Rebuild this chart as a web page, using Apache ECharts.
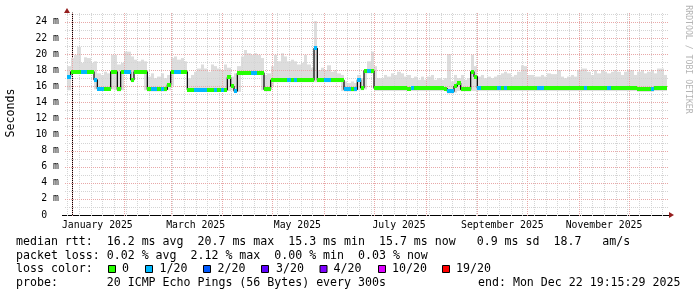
<!DOCTYPE html>
<html><head><meta charset="utf-8">
<script src="https://cdn.jsdelivr.net/npm/echarts@6/dist/echarts.min.js"></script>
<style>html,body{margin:0;padding:0;background:#fff}#c{width:697px;height:297px}</style>
</head><body><div id="c"></div>
<script>
// ---------------- data ----------------
const sampleStart = '2024-12-29';   // first consolidated sample (UTC date)
const sampleStepDays = 2;            // one sample every 2 days
const viewStart = '2024-12-28T19:12:00Z';
const viewDays = 360;

const median = [
 17.2,17.8,17.8,17.8,17.8,17.8,17.8,17.8,16.8,15.7,
 15.7,15.7,15.7,17.8,17.8,15.6,17.8,17.8,17.8,16.8,
 17.8,17.8,17.8,17.8,15.6,15.6,15.6,15.6,15.6,15.6,
 16.2,17.8,17.8,17.8,17.8,17.8,15.55,15.55,15.55,15.55,
 15.55,15.55,15.55,15.55,15.55,15.55,15.55,15.55,17.1,16.0,
 15.4,17.6,17.65,17.65,17.65,17.65,17.65,17.65,17.65,15.6,
 15.6,16.75,16.75,16.75,16.75,16.75,16.75,16.75,16.75,16.75,
 16.75,16.75,16.75,16.75,20.7,16.75,16.75,16.75,16.75,16.75,
 16.75,16.75,16.75,15.6,15.6,15.6,15.6,16.8,15.8,17.9,
 17.9,17.9,15.75,15.75,15.75,15.75,15.75,15.75,15.75,15.75,
 15.75,15.75,15.7,15.75,15.75,15.75,15.8,15.75,15.75,15.75,
 15.75,15.75,15.75,15.7,15.35,15.35,16.0,16.4,15.6,15.6,
 15.6,17.8,17.2,15.75,15.75,15.75,15.75,15.75,15.75,15.75,
 15.75,15.75,15.75,15.75,15.75,15.75,15.75,15.75,15.75,15.75,
 15.75,15.75,15.75,15.75,15.75,15.75,15.75,15.75,15.75,15.75,
 15.75,15.75,15.75,15.75,15.75,15.75,15.75,15.75,15.75,15.75,
 15.75,15.75,15.75,15.75,15.75,15.75,15.75,15.75,15.75,15.75,
 15.75,15.6,15.6,15.6,15.6,15.6,15.75,15.75,15.75,15.75
];
// index into lossColors (0 = no loss, 1 = 1/20)
const lossLevel = [
 1,0,0,0,1,1,0,0,1,1,
 1,0,0,0,0,0,0,1,1,0,
 0,0,0,0,0,1,1,0,1,0,
 0,0,1,1,0,0,0,0,1,1,
 1,1,0,0,1,0,1,0,0,0,
 1,0,0,0,0,1,1,0,0,0,
 0,0,0,0,0,0,1,0,1,0,
 0,0,0,0,1,0,0,1,1,0,
 0,0,0,1,1,0,1,1,0,0,
 1,0,0,0,0,0,0,0,0,0,
 0,0,0,1,0,0,0,0,0,0,
 0,0,0,0,1,1,0,0,0,0,
 0,0,0,1,0,0,0,0,0,1,
 0,1,0,0,0,0,0,0,0,0,
 0,1,1,0,0,0,0,0,0,0,
 0,0,0,0,0,1,0,0,0,0,
 0,0,1,0,0,0,0,0,0,0,
 0,0,0,0,0,1,0,0,0,0
];
const smokeMin = [
 15.5,17.5,17.55,17.55,17.55,17.55,17.55,17.55,15.6,15.45,
 15.45,15.45,15.45,15.6,15.5,15.35,15.5,17.55,17.55,16.5,
 17.55,17.55,17.55,15.5,15.35,15.35,15.35,15.35,15.35,15.35,
 15.5,16.0,17.55,17.55,17.55,17.55,15.3,15.3,15.3,15.3,
 15.3,15.3,15.3,15.3,15.3,15.3,15.3,15.3,15.4,15.5,
 15.15,15.3,17.4,17.4,17.4,17.4,17.4,17.4,15.5,15.35,
 15.35,16.0,16.5,16.5,16.5,16.5,16.5,16.5,16.5,16.5,
 16.5,16.5,16.5,16.5,16.5,16.5,16.5,16.5,16.5,16.5,
 16.5,16.5,15.4,15.35,15.35,15.35,15.35,15.5,15.5,15.6,
 17.6,17.6,15.4,15.4,15.4,15.4,15.4,15.4,15.4,15.4,
 15.4,15.4,15.4,15.4,15.4,15.4,15.4,15.4,15.4,15.4,
 15.4,15.4,15.4,15.4,15.1,15.1,15.2,15.4,15.35,15.35,
 15.35,15.4,15.4,15.4,15.4,15.4,15.4,15.4,15.4,15.4,
 15.4,15.4,15.4,15.4,15.4,15.4,15.4,15.4,15.4,15.4,
 15.4,15.4,15.4,15.4,15.4,15.4,15.4,15.4,15.4,15.4,
 15.4,15.4,15.4,15.4,15.4,15.4,15.4,15.4,15.4,15.4,
 15.4,15.4,15.4,15.4,15.4,15.4,15.4,15.4,15.4,15.4,
 15.4,15.3,15.3,15.3,15.3,15.3,15.4,15.4,15.4,15.4
];
const smokeMax = [
 18.5,19.5,19.9,20.9,18.9,19.6,19.5,18.9,19.1,17.6,
 17.4,17.8,17.6,19.9,19.9,18.7,18.9,20.3,20.3,19.7,
 19.3,19.1,19.3,19.1,17.2,17.6,17.0,17.2,17.6,17.0,
 17.4,19.5,19.7,19.3,19.5,19.1,17.0,17.4,17.8,18.2,
 18.7,18.2,17.8,18.7,18.5,18.2,18.0,18.7,18.3,17.2,
 17.6,18.5,19.7,20.5,20.1,19.9,20.1,19.9,19.5,17.4,
 17.6,18.5,19.9,19.1,20.1,19.7,19.1,19.3,19.1,18.7,
 18.9,19.9,18.7,18.3,24.1,18.0,18.3,18.0,18.6,17.8,
 18.0,17.6,17.4,16.6,16.4,16.6,16.4,17.4,17.0,18.0,
 19.1,20.3,18.5,17.0,17.0,17.4,17.2,17.6,17.4,17.8,
 17.6,17.2,17.4,17.0,17.2,16.8,17.2,16.8,17.2,17.4,
 16.8,17.0,16.8,17.0,20.0,16.6,17.4,17.0,17.4,16.8,
 17.0,19.9,18.5,17.2,17.4,17.0,17.2,17.0,17.2,17.4,
 17.6,17.8,17.6,17.2,17.4,17.8,18.6,18.5,17.4,17.4,
 17.2,17.2,17.4,17.2,17.6,17.5,17.5,18.0,17.2,17.0,
 17.2,17.4,17.2,18.0,18.2,18.2,17.8,17.4,18.0,17.6,
 18.0,17.8,17.6,17.8,18.0,17.8,17.4,17.8,18.0,18.0,
 17.4,17.8,18.0,17.6,17.8,18.0,17.6,18.2,18.2,17.4
];
const yMax = 25.1;
const yLabelStep = 2;
const xTickDates = ['2025-01-16','2025-03-16','2025-05-16','2025-07-16','2025-09-16','2025-11-16'];
const xTickLabels = ['January 2025','March 2025','May 2025','July 2025','September 2025','November 2025'];
const lossColors = ['#26ff00','#00b8ff','#0059ff','#5e00ff','#7e00ff','#dd00ff','#ff0000'];
const lossLabels = ['0','1/20','2/20','3/20','4/20','10/20','19/20'];
const statsLines = [
 'median rtt:  16.2 ms avg  20.7 ms max  15.3 ms min  15.7 ms now   0.9 ms sd  18.7   am/s',
 'packet loss: 0.02 % avg  2.12 % max  0.00 % min  0.03 % now',
 'loss color:',
 'probe:       20 ICMP Echo Pings (56 Bytes) every 300s'
];
const endText = 'end: Mon Dec 22 19:15:29 2025';

// ---------------- build ----------------
const DAY = 864e5, T0 = Date.UTC(2025, 0, 1);
const dayOf = s => (Date.parse(s.length === 10 ? s + 'T00:00:00Z' : s) - T0) / DAY;
const xMin = dayOf(viewStart), xMax = xMin + viewDays;
const x0 = dayOf(sampleStart);
const xs = median.map((_, i) => x0 + i * sampleStepDays);
const tickDays = xTickDates.map(dayOf);

const weekLines = [], monthLines = [];
for (let d = Math.ceil(xMin); d <= xMax; d++) {
  const dt = new Date(T0 + d * DAY);
  if (dt.getUTCDate() === 1) monthLines.push([d, 0]);
  else if (dt.getUTCDay() === 0) weekLines.push([d, 0]);
}
const hMinor = [], hMajor = [];
for (let v = 1; v <= yMax; v++) (v % yLabelStep === 0 ? hMajor : hMinor).push([0, v]);

const MONO = '"DejaVu Sans Mono", monospace';
const gridMinor = '#d4d4d4', gridMajor = '#e8a8a8';

function vLine(color) {
  return (p, api) => {
    const cs = p.coordSys;
    const x = Math.round(api.coord([api.value(0), 0])[0]) + 0.5;
    return { type: 'line', silent: true,
      shape: { x1: x, y1: cs.y, x2: x, y2: cs.y + cs.height + 2 },
      style: { stroke: color, lineWidth: 1, lineDash: [1, 1] } };
  };
}
function hLine(color) {
  return (p, api) => {
    const cs = p.coordSys;
    const y = Math.round(api.coord([0, api.value(1)])[1]) + 0.5;
    return { type: 'line', silent: true,
      shape: { x1: cs.x - 2, y1: y, x2: cs.x + cs.width + 2, y2: y },
      style: { stroke: color, lineWidth: 1, lineDash: [1, 1] } };
  };
}

const chart = echarts.init(document.getElementById('c'), null, { renderer: 'canvas' });

const graphic = [];
graphic.push({ type: 'text', x: 10.5, y: 113, rotation: Math.PI / 2,
  style: { text: 'Seconds', font: '11.6px ' + MONO, fill: '#000', align: 'center', verticalAlign: 'middle' } });
graphic.push({ type: 'text', x: 688.5, y: 59.5, rotation: -Math.PI / 2,
  style: { text: 'RRDTOOL / TOBI OETIKER', font: '8.2px ' + MONO, fill: '#b4b4b4', align: 'center', verticalAlign: 'middle' } });
graphic.push({ type: 'line', shape: { x1: 62, y1: 215.5, x2: 669, y2: 215.5 }, style: { stroke: '#000', lineWidth: 1 } });
graphic.push({ type: 'polygon', shape: { points: [[64, 13], [70, 13], [67, 8]] }, style: { fill: '#951e1e' } });
graphic.push({ type: 'polygon', shape: { points: [[669, 212], [669, 218], [674, 215]] }, style: { fill: '#951e1e' } });
const lineY = [242, 255.5, 269, 282.5];
statsLines.forEach((t, i) => graphic.push({ type: 'text', x: 16, y: lineY[i],
  style: { text: t, font: '11.6px ' + MONO, fill: '#000', verticalAlign: 'middle' } }));
graphic.push({ type: 'text', x: 478, y: lineY[3],
  style: { text: endText, font: '11.6px ' + MONO, fill: '#000', verticalAlign: 'middle' } });
const boxX = [108.5, 145.5, 203.5, 261.5, 320, 378.5, 442.5];
const labX = [122, 159.5, 217.5, 276, 333.5, 392, 456];
lossLabels.forEach((t, i) => {
  graphic.push({ type: 'rect', shape: { x: boxX[i], y: 265.5, width: 7, height: 7 },
    style: { fill: lossColors[i], stroke: '#000', lineWidth: 1 } });
  graphic.push({ type: 'text', x: labX[i], y: lineY[2],
    style: { text: t, font: '11.6px ' + MONO, fill: '#000', verticalAlign: 'middle' } });
});

chart.setOption({
  animation: false,
  backgroundColor: '#fff',
  grid: { left: 67, top: 13, width: 600, height: 202, containLabel: false },
  xAxis: {
    type: 'value', min: xMin, max: xMax,
    splitLine: { show: false }, axisTick: { show: false },
    axisLine: { show: true, lineStyle: { color: '#000', width: 1 } },
    axisLabel: {
      customValues: tickDays, margin: 5, fontFamily: MONO, fontSize: 9.8, color: '#000',
      formatter: v => { const k = tickDays.findIndex(t => Math.abs(t - v) < 0.01); return k >= 0 ? xTickLabels[k] : ''; }
    }
  },
  yAxis: {
    type: 'value', min: 0, max: yMax, interval: yLabelStep,
    splitLine: { show: false }, axisTick: { show: false },
    axisLine: { show: true, lineStyle: { color: '#000', width: 1 } },
    axisLabel: { margin: 8, fontFamily: MONO, fontSize: 9.8, color: '#000', showMaxLabel: false,
      formatter: v => (v === 0 ? '0  ' : v + ' m') }
  },
  graphic: graphic,
  series: [
    { type: 'custom', z: 1, silent: true, clip: true,
      data: xs.map((x, i) => [x, smokeMin[i], smokeMax[i]]),
      encode: { x: 0, y: [1, 2] },
      renderItem: (p, api) => {
        const d = api.value(0);
        const a = api.coord([d, api.value(2)]);
        const b = api.coord([d + sampleStepDays, api.value(1)]);
        const xa = Math.round(a[0]), xb = Math.round(b[0]);
        return { type: 'rect', shape: { x: xa, y: a[1], width: xb - xa, height: b[1] - a[1] },
          style: { fill: '#dddddd' } };
      } },
    { type: 'custom', z: 2, silent: true, data: weekLines, encode: { x: 0, y: 1 }, renderItem: vLine(gridMinor) },
    { type: 'custom', z: 2, silent: true, data: hMinor, encode: { x: 0, y: 1 }, renderItem: hLine(gridMinor) },
    { type: 'custom', z: 3, silent: true, data: monthLines, encode: { x: 0, y: 1 }, renderItem: vLine(gridMajor) },
    { type: 'custom', z: 3, silent: true, data: hMajor, encode: { x: 0, y: 1 }, renderItem: hLine(gridMajor) },
    { type: 'line', z: 4, silent: true, step: 'end', symbol: 'none',
      data: xs.map((x, i) => [x, median[i]]),
      lineStyle: { color: '#000', width: 1.2 } },
    { type: 'custom', z: 5, silent: true,
      data: xs.map((x, i) => [x, median[i], lossLevel[i]]),
      encode: { x: 0, y: 1 },
      renderItem: (p, api) => {
        const d = api.value(0);
        const a = api.coord([d, api.value(1)]);
        const b = api.coord([d + sampleStepDays, api.value(1)]);
        const xa = Math.round(a[0]), xb = Math.round(b[0]);
        const yc = Math.round(a[1]);
        return { type: 'rect', shape: { x: xa, y: yc - 2, width: xb - xa, height: 4 },
          style: { fill: lossColors[api.value(2)] } };
      } }
  ]
});
</script></body></html>
